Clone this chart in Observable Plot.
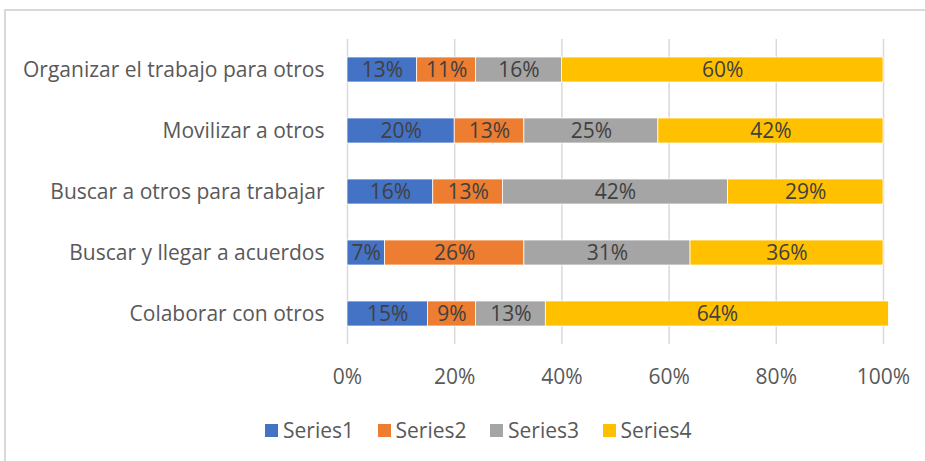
<!DOCTYPE html>
<html>
<head>
<meta charset="utf-8">
<script src="https://cdn.jsdelivr.net/npm/d3@7"></script>
<script src="https://cdn.jsdelivr.net/npm/@observablehq/plot@0.6"></script>
<style>
  html, body { margin: 0; padding: 0; background: #fff; }
  body { width: 925px; height: 461px; position: relative; overflow: hidden; font-family: "Open Sans", "Noto Sans", sans-serif; }
  #frame { position: absolute; left: 4px; top: 9px; width: 1000px; height: 500px; border: 2px solid #d9d9d9; box-sizing: border-box; }
  #chart { position: absolute; left: 0; top: 0; }
  #legend { position: absolute; left: 265px; top: 415px; display: flex; gap: 0; font-size: 21px; line-height: 30px; color: #595959; }
  .item { display: flex; align-items: center; width: 112.5px; }
  .sw { width: 13px; height: 13px; margin-right: 5px; }
</style>
</head>
<body>
<div id="frame"></div>
<div id="chart"></div>
<div id="legend"></div>
<script>
const categories = [
  "Organizar el trabajo para otros",
  "Movilizar a otros",
  "Buscar a otros para trabajar",
  "Buscar y llegar a acuerdos",
  "Colaborar con otros"
];
const seriesNames = ["Series1", "Series2", "Series3", "Series4"];
const seriesColors = ["#4472C4", "#ED7D31", "#A5A5A5", "#FFC000"];
const series1 = [13, 20, 16, 7, 15];
const series2 = [11, 13, 13, 26, 9];
const series3 = [16, 25, 42, 31, 13];
const series4 = [60, 42, 29, 36, 64];
const xTicks = [0, 0.2, 0.4, 0.6, 0.8, 1];

const allSeries = [series1, series2, series3, series4];
const data = [];
categories.forEach((c, i) => {
  allSeries.forEach((s, j) => {
    data.push({cat: c, series: seriesNames[j], value: s[i] / 100, label: s[i] + "%"});
  });
});

const font = "'Open Sans', 'Noto Sans', sans-serif";
const chart = Plot.plot({
  width: 925,
  height: 400,
  marginLeft: 347,
  marginRight: 42,
  marginTop: 39,
  marginBottom: 56,
  style: {fontFamily: font, fontSize: "21px", color: "#595959", background: "transparent"},
  x: {domain: [0, 1], ticks: xTicks, tickFormat: d3.format(".0%"), label: null},
  y: {domain: categories, paddingInner: 0.59, paddingOuter: 0.295, label: null},
  color: {domain: seriesNames, range: seriesColors},
  marks: [
    Plot.gridX(xTicks, {stroke: "#d9d9d9", strokeOpacity: 1, strokeWidth: 1.5}),
    Plot.barX(data, Plot.stackX({x: "value", y: "cat", fill: "series", stroke: "white", strokeWidth: 0.75})),
    Plot.text(data, Plot.stackX({x: "value", y: "cat", text: "label", fill: "#404040", fontSize: 21})),
    Plot.axisX({ticks: xTicks, tickFormat: d3.format(".0%"), tickSize: 0, tickPadding: 25, fontSize: 21, fill: "#595959", label: null}),
    Plot.axisY({tickSize: 0, tickPadding: 23, fontSize: 21, fill: "#595959", label: null})
  ]
});
document.getElementById("chart").appendChild(chart);

const legend = document.getElementById("legend");
seriesNames.forEach((n, i) => {
  const it = document.createElement("div");
  it.className = "item";
  const sw = document.createElement("div");
  sw.className = "sw";
  sw.style.background = seriesColors[i];
  const t = document.createElement("span");
  t.textContent = n;
  it.appendChild(sw);
  it.appendChild(t);
  legend.appendChild(it);
});
</script>
</body>
</html>
